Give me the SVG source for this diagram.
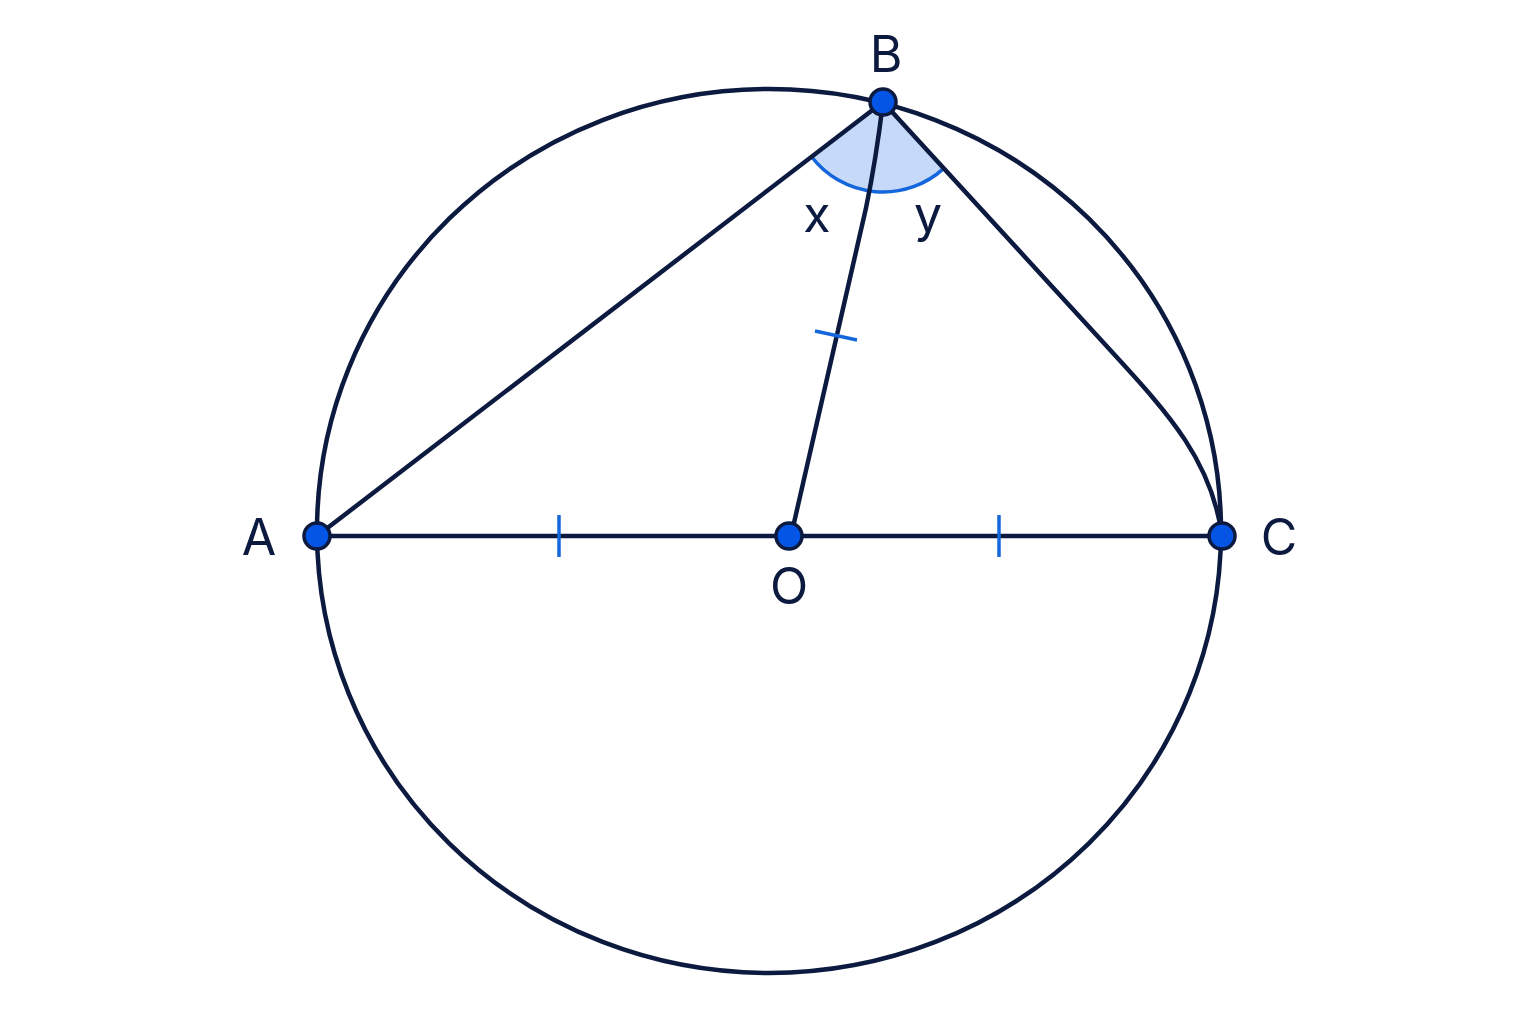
<svg xmlns="http://www.w3.org/2000/svg" width="1536" height="1024" viewBox="0 0 1536 1024">
<style>
.ln{fill:none;stroke:#0c1a40;stroke-width:4.5;stroke-linecap:round;stroke-linejoin:round}
.tk{fill:none;stroke:#1466dc;stroke-width:3.5}
.pt{fill:#0455e6;stroke:#0c1a40;stroke-width:3.5}
.lb{font-family:Inter,"Liberation Sans",Arial,sans-serif;font-size:50px;fill:#0c1a40;text-anchor:middle}
</style>
<rect width="1536" height="1024" fill="#ffffff"/>
<g id="angle">
<path d="M883,102 L811.6,156.8 A90,90 0 0 0 943.8,168.4 Z" fill="#c6d9f8"/>
<path d="M811.6,156.8 A90,90 0 0 0 943.8,168.4" fill="none" stroke="#1466dc" stroke-width="3.5"/>
</g>
<g id="connectors">
<ellipse id="circle" class="ln" cx="769" cy="531" rx="452" ry="442"/>
<line class="ln" x1="317" y1="536" x2="1222" y2="536"/>
<line class="ln" x1="317" y1="536" x2="883" y2="102"/>
<path class="ln" d="M791,536 L866,208 Q876,160 883,102"/>
<path class="ln" d="M883,102 L1112,352 C1170,415 1212,462 1222,536"/>
</g>
<g id="ticks">
<line class="tk" x1="559" y1="515" x2="559" y2="557"/>
<line class="tk" x1="999" y1="515" x2="999" y2="557"/>
<line class="tk" x1="815" y1="331" x2="857" y2="340"/>
</g>
<g id="A"><circle class="pt" cx="317" cy="536" r="13"/><text class="lb" x="259" y="555">A</text></g>
<g id="B"><circle class="pt" cx="883" cy="102" r="13"/><text class="lb" x="886" y="72">B</text></g>
<g id="C"><circle class="pt" cx="1222" cy="536" r="13"/><text class="lb" x="1279" y="555">C</text></g>
<g id="O"><circle class="pt" cx="789" cy="536" r="13"/><text class="lb" x="789" y="604">O</text></g>
<g id="labels">
<text class="lb" x="817" y="232">x</text>
<text class="lb" x="928" y="232">y</text>
</g>
</svg>
